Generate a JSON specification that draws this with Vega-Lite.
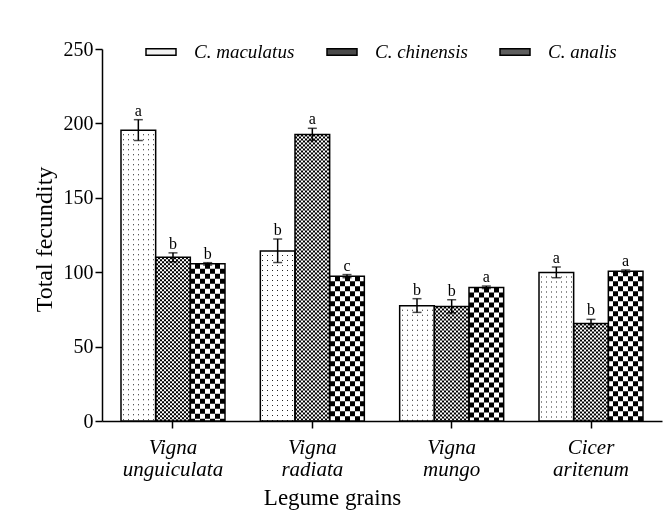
{
  "$schema": "https://vega.github.io/schema/vega-lite/v6.json",
  "width": 560,
  "height": 372,
  "autosize": {"type": "none"},
  "padding": {"left": 102, "top": 49, "right": 1, "bottom": 102},
  "background": "white",
  "config": {
    "view": {"stroke": null},
    "font": "Liberation Serif",
    "axis": {
      "domainColor": "black", "tickColor": "black", "labelColor": "black", "titleColor": "black",
      "domainWidth": 1.5, "tickWidth": 1.5, "grid": false, "titleFontWeight": "normal",
      "labelFont": "Liberation Serif", "titleFont": "Liberation Serif"
    }
  },
  "data": {
    "values": [
      {"grain": "Vigna unguiculata", "species": "C. maculatus", "mean": 195.4, "lo": 188.5, "hi": 202.5, "letter": "a"},
      {"grain": "Vigna unguiculata", "species": "C. chinensis", "mean": 110, "lo": 107, "hi": 113, "letter": "b"},
      {"grain": "Vigna unguiculata", "species": "C. analis", "mean": 105.6, "lo": 104.8, "hi": 106.4, "letter": "b"},
      {"grain": "Vigna radiata", "species": "C. maculatus", "mean": 114.3, "lo": 106.5, "hi": 122.3, "letter": "b"},
      {"grain": "Vigna radiata", "species": "C. chinensis", "mean": 192.5, "lo": 188.5, "hi": 196.7, "letter": "a"},
      {"grain": "Vigna radiata", "species": "C. analis", "mean": 97.3, "lo": 96.3, "hi": 98.4, "letter": "c"},
      {"grain": "Vigna mungo", "species": "C. maculatus", "mean": 77.4, "lo": 73, "hi": 82.2, "letter": "b"},
      {"grain": "Vigna mungo", "species": "C. chinensis", "mean": 77, "lo": 72.7, "hi": 81.5, "letter": "b"},
      {"grain": "Vigna mungo", "species": "C. analis", "mean": 89.8, "lo": 89, "hi": 90.7, "letter": "a"},
      {"grain": "Cicer aritenum", "species": "C. maculatus", "mean": 99.8, "lo": 96.3, "hi": 103.5, "letter": "a"},
      {"grain": "Cicer aritenum", "species": "C. chinensis", "mean": 65.5, "lo": 62.8, "hi": 68.3, "letter": "b"},
      {"grain": "Cicer aritenum", "species": "C. analis", "mean": 100.6, "lo": 99.8, "hi": 101.5, "letter": "a"}
    ]
  },
  "encoding": {
    "x": {
      "field": "grain", "type": "nominal",
      "sort": ["Vigna unguiculata", "Vigna radiata", "Vigna mungo", "Cicer aritenum"],
      "scale": {"paddingInner": 0.25359, "paddingOuter": 0.13636},
      "axis": {
        "title": "Legume grains", "titleFontSize": 23, "titleX": 230, "titleY": 83,
        "titleBaseline": "alphabetic", "titleAlign": "center",
        "labelAngle": 0, "labelFontSize": 21, "labelFontStyle": "italic",
        "labelExpr": "split(datum.label, ' ')", "labelLineHeight": 22.5,
        "labelPadding": 8, "tickSize": 7, "labelBaseline": "top"
      }
    },
    "xOffset": {
      "field": "species", "type": "nominal",
      "sort": ["C. maculatus", "C. chinensis", "C. analis"],
      "scale": {"paddingInner": 0, "paddingOuter": 0}
    }
  },
  "layer": [
    {
      "mark": {"type": "bar"},
      "encoding": {
        "y": {
          "field": "mean", "type": "quantitative",
          "scale": {"domain": [0, 250], "nice": false},
          "axis": {
            "title": "Total fecundity", "titleFontSize": 24, "values": [0, 50, 100, 150, 200, 250],
            "labelFontSize": 20, "labelPadding": 2, "tickSize": 7,
            "titleX": -58, "titleY": 190, "titleBaseline": "middle", "titleAlign": "center", "titleAngle": -90
          }
        },
        "fill": {
          "field": "species", "type": "nominal",
          "sort": ["C. maculatus", "C. chinensis", "C. analis"],
          "scale": {"range": ["#f2f2f2", "#4a4a4a", "#5e5e5e"]},
          "legend": {
            "orient": "none", "legendX": 43, "legendY": -13, "direction": "horizontal", "title": null,
            "symbolType": "M-1,-0.22H1V0.22H-1Z", "symbolSize": 900,
            "symbolStrokeColor": "black", "symbolStrokeWidth": 1.5,
            "labelFont": "Liberation Serif", "labelFontStyle": "italic", "labelFontSize": 19,
            "labelColor": "black", "labelOffset": 17, "columnPadding": 29, "padding": 0, "zindex": 1
          }
        }
      }
    },
    {
      "transform": [{"filter": "datum.species === 'C. maculatus'"}],
      "mark": {
        "type": "bar",
        "fill": {
          "gradient": "linear", "x1": 0, "y1": 0, "x2": 1, "y2": 0,
          "stops": [
            {"offset": 0, "color": "white"},
            {"offset": 0.0577, "color": "white"}, {"offset": 0.0577, "color": "#222"}, {"offset": 0.0865, "color": "#222"}, {"offset": 0.0865, "color": "white"},
            {"offset": 0.2019, "color": "white"}, {"offset": 0.2019, "color": "#222"}, {"offset": 0.2308, "color": "#222"}, {"offset": 0.2308, "color": "white"},
            {"offset": 0.3462, "color": "white"}, {"offset": 0.3462, "color": "#222"}, {"offset": 0.375, "color": "#222"}, {"offset": 0.375, "color": "white"},
            {"offset": 0.4904, "color": "white"}, {"offset": 0.4904, "color": "#222"}, {"offset": 0.5192, "color": "#222"}, {"offset": 0.5192, "color": "white"},
            {"offset": 0.6346, "color": "white"}, {"offset": 0.6346, "color": "#222"}, {"offset": 0.6635, "color": "#222"}, {"offset": 0.6635, "color": "white"},
            {"offset": 0.7788, "color": "white"}, {"offset": 0.7788, "color": "#222"}, {"offset": 0.8077, "color": "#222"}, {"offset": 0.8077, "color": "white"},
            {"offset": 0.9231, "color": "white"}, {"offset": 0.9231, "color": "#222"}, {"offset": 0.9519, "color": "#222"}, {"offset": 0.9519, "color": "white"},
            {"offset": 1, "color": "white"}
          ]
        }
      },
      "encoding": {"y": {"field": "mean", "type": "quantitative"}}
    },
    {
      "transform": [{"filter": "datum.species === 'C. maculatus'"}],
      "mark": {"type": "rule", "color": "white", "strokeWidth": 34.67, "strokeDash": [4, 1], "strokeCap": "butt"},
      "encoding": {"y": {"field": "mean", "type": "quantitative"}, "y2": {"datum": 0}}
    },
    {
      "transform": [{"filter": "datum.species === 'C. chinensis'"}],
      "mark": {
        "type": "bar",
        "fill": {
          "gradient": "linear", "x1": 0, "y1": 0, "x2": 1, "y2": 0,
          "stops": [
            {"offset": 0, "color": "black"}, {"offset": 0.0577, "color": "black"},
            {"offset": 0.0577, "color": "white"}, {"offset": 0.1154, "color": "white"},
            {"offset": 0.1154, "color": "black"}, {"offset": 0.1731, "color": "black"},
            {"offset": 0.1731, "color": "white"}, {"offset": 0.2308, "color": "white"},
            {"offset": 0.2308, "color": "black"}, {"offset": 0.2885, "color": "black"},
            {"offset": 0.2885, "color": "white"}, {"offset": 0.3462, "color": "white"},
            {"offset": 0.3462, "color": "black"}, {"offset": 0.4038, "color": "black"},
            {"offset": 0.4038, "color": "white"}, {"offset": 0.4615, "color": "white"},
            {"offset": 0.4615, "color": "black"}, {"offset": 0.5192, "color": "black"},
            {"offset": 0.5192, "color": "white"}, {"offset": 0.5769, "color": "white"},
            {"offset": 0.5769, "color": "black"}, {"offset": 0.6346, "color": "black"},
            {"offset": 0.6346, "color": "white"}, {"offset": 0.6923, "color": "white"},
            {"offset": 0.6923, "color": "black"}, {"offset": 0.75, "color": "black"},
            {"offset": 0.75, "color": "white"}, {"offset": 0.8077, "color": "white"},
            {"offset": 0.8077, "color": "black"}, {"offset": 0.8654, "color": "black"},
            {"offset": 0.8654, "color": "white"}, {"offset": 0.9231, "color": "white"},
            {"offset": 0.9231, "color": "black"}, {"offset": 0.9808, "color": "black"},
            {"offset": 0.9808, "color": "white"}, {"offset": 1, "color": "white"}
          ]
        }
      },
      "encoding": {"y": {"field": "mean", "type": "quantitative"}}
    },
    {
      "transform": [{"filter": "datum.species === 'C. chinensis'"}],
      "mark": {"type": "rule", "color": "white", "strokeWidth": 34.67, "strokeDash": [2, 2], "strokeCap": "butt", "blend": "difference"},
      "encoding": {"y": {"field": "mean", "type": "quantitative"}, "y2": {"datum": 0}}
    },
    {
      "transform": [{"filter": "datum.species === 'C. analis'"}],
      "mark": {
        "type": "bar",
        "fill": {
          "gradient": "linear", "x1": 0, "y1": 0, "x2": 1, "y2": 0,
          "stops": [
            {"offset": 0, "color": "black"}, {"offset": 0.1442, "color": "black"},
            {"offset": 0.1442, "color": "white"}, {"offset": 0.2885, "color": "white"},
            {"offset": 0.2885, "color": "black"}, {"offset": 0.4327, "color": "black"},
            {"offset": 0.4327, "color": "white"}, {"offset": 0.5769, "color": "white"},
            {"offset": 0.5769, "color": "black"}, {"offset": 0.7212, "color": "black"},
            {"offset": 0.7212, "color": "white"}, {"offset": 0.8654, "color": "white"},
            {"offset": 0.8654, "color": "black"}, {"offset": 1, "color": "black"}
          ]
        }
      },
      "encoding": {"y": {"field": "mean", "type": "quantitative"}}
    },
    {
      "transform": [{"filter": "datum.species === 'C. analis'"}],
      "mark": {"type": "rule", "color": "white", "strokeWidth": 34.67, "strokeDash": [5, 5], "strokeCap": "butt", "blend": "difference"},
      "encoding": {"y": {"field": "mean", "type": "quantitative"}, "y2": {"datum": 0}}
    },
    {
      "mark": {"type": "bar", "fillOpacity": 0, "stroke": "black", "strokeWidth": 1.5},
      "encoding": {"y": {"field": "mean", "type": "quantitative"}}
    },
    {
      "mark": {"type": "rule", "color": "black", "strokeWidth": 1.5},
      "encoding": {"y": {"field": "lo", "type": "quantitative"}, "y2": {"field": "hi"}}
    },
    {
      "mark": {"type": "tick", "color": "black", "orient": "horizontal", "size": 9, "thickness": 1.5},
      "encoding": {"y": {"field": "hi", "type": "quantitative"}}
    },
    {
      "mark": {"type": "tick", "color": "black", "orient": "horizontal", "size": 9, "thickness": 1.5},
      "encoding": {"y": {"field": "lo", "type": "quantitative"}}
    },
    {
      "mark": {"type": "text", "baseline": "alphabetic", "dy": -4, "fontSize": 16, "font": "Liberation Serif", "color": "black"},
      "encoding": {"y": {"field": "hi", "type": "quantitative"}, "text": {"field": "letter"}}
    }
  ]
}
